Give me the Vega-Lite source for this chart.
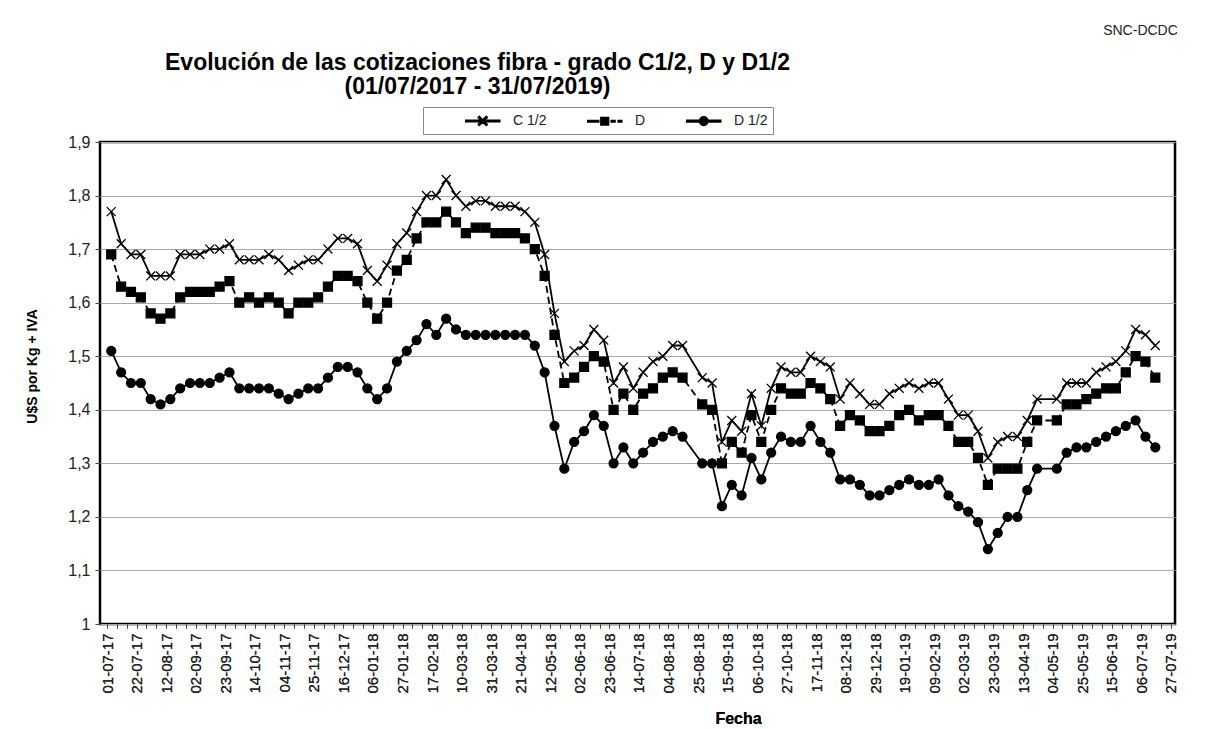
{
  "$schema": "https://vega.github.io/schema/vega-lite/v6.json",
  "width": 1075,
  "height": 482,
  "autosize": {"type": "none"},
  "padding": {"left": 100, "top": 142, "right": 35, "bottom": 105},
  "background": "white",
  "config": {
    "font": "Liberation Sans",
    "view": {"stroke": "black", "strokeWidth": 2.5}
  },
  "title": {
    "text": ["Evolución de las cotizaciones fibra - grado C1/2, D y D1/2", "(01/07/2017 - 31/07/2019)"],
    "fontSize": 23,
    "fontWeight": "bold",
    "font": "Liberation Sans",
    "color": "black",
    "anchor": "middle",
    "dx": -160,
    "dy": 90,
    "offset": 14,
    "lineHeight": 24
  },
  "resolve": {"axis": {"x": "independent"}, "scale": {"shape": "independent"}},
  "data": {
    "values": [
      {"fecha": "2017-07-05", "C12": 1.77, "D": 1.69, "D12": 1.51},
      {"fecha": "2017-07-12", "C12": 1.71, "D": 1.63, "D12": 1.47},
      {"fecha": "2017-07-19", "C12": 1.69, "D": 1.62, "D12": 1.45},
      {"fecha": "2017-07-26", "C12": 1.69, "D": 1.61, "D12": 1.45},
      {"fecha": "2017-08-02", "C12": 1.65, "D": 1.58, "D12": 1.42},
      {"fecha": "2017-08-09", "C12": 1.65, "D": 1.57, "D12": 1.41},
      {"fecha": "2017-08-16", "C12": 1.65, "D": 1.58, "D12": 1.42},
      {"fecha": "2017-08-23", "C12": 1.69, "D": 1.61, "D12": 1.44},
      {"fecha": "2017-08-30", "C12": 1.69, "D": 1.62, "D12": 1.45},
      {"fecha": "2017-09-06", "C12": 1.69, "D": 1.62, "D12": 1.45},
      {"fecha": "2017-09-13", "C12": 1.70, "D": 1.62, "D12": 1.45},
      {"fecha": "2017-09-20", "C12": 1.70, "D": 1.63, "D12": 1.46},
      {"fecha": "2017-09-27", "C12": 1.71, "D": 1.64, "D12": 1.47},
      {"fecha": "2017-10-04", "C12": 1.68, "D": 1.60, "D12": 1.44},
      {"fecha": "2017-10-11", "C12": 1.68, "D": 1.61, "D12": 1.44},
      {"fecha": "2017-10-18", "C12": 1.68, "D": 1.60, "D12": 1.44},
      {"fecha": "2017-10-25", "C12": 1.69, "D": 1.61, "D12": 1.44},
      {"fecha": "2017-11-01", "C12": 1.68, "D": 1.60, "D12": 1.43},
      {"fecha": "2017-11-08", "C12": 1.66, "D": 1.58, "D12": 1.42},
      {"fecha": "2017-11-15", "C12": 1.67, "D": 1.60, "D12": 1.43},
      {"fecha": "2017-11-22", "C12": 1.68, "D": 1.60, "D12": 1.44},
      {"fecha": "2017-11-29", "C12": 1.68, "D": 1.61, "D12": 1.44},
      {"fecha": "2017-12-06", "C12": 1.70, "D": 1.63, "D12": 1.46},
      {"fecha": "2017-12-13", "C12": 1.72, "D": 1.65, "D12": 1.48},
      {"fecha": "2017-12-20", "C12": 1.72, "D": 1.65, "D12": 1.48},
      {"fecha": "2017-12-27", "C12": 1.71, "D": 1.64, "D12": 1.47},
      {"fecha": "2018-01-03", "C12": 1.66, "D": 1.60, "D12": 1.44},
      {"fecha": "2018-01-10", "C12": 1.64, "D": 1.57, "D12": 1.42},
      {"fecha": "2018-01-17", "C12": 1.67, "D": 1.60, "D12": 1.44},
      {"fecha": "2018-01-24", "C12": 1.71, "D": 1.66, "D12": 1.49},
      {"fecha": "2018-01-31", "C12": 1.73, "D": 1.68, "D12": 1.51},
      {"fecha": "2018-02-07", "C12": 1.77, "D": 1.72, "D12": 1.53},
      {"fecha": "2018-02-14", "C12": 1.80, "D": 1.75, "D12": 1.56},
      {"fecha": "2018-02-21", "C12": 1.80, "D": 1.75, "D12": 1.54},
      {"fecha": "2018-02-28", "C12": 1.83, "D": 1.77, "D12": 1.57},
      {"fecha": "2018-03-07", "C12": 1.80, "D": 1.75, "D12": 1.55},
      {"fecha": "2018-03-14", "C12": 1.78, "D": 1.73, "D12": 1.54},
      {"fecha": "2018-03-21", "C12": 1.79, "D": 1.74, "D12": 1.54},
      {"fecha": "2018-03-28", "C12": 1.79, "D": 1.74, "D12": 1.54},
      {"fecha": "2018-04-04", "C12": 1.78, "D": 1.73, "D12": 1.54},
      {"fecha": "2018-04-11", "C12": 1.78, "D": 1.73, "D12": 1.54},
      {"fecha": "2018-04-18", "C12": 1.78, "D": 1.73, "D12": 1.54},
      {"fecha": "2018-04-25", "C12": 1.77, "D": 1.72, "D12": 1.54},
      {"fecha": "2018-05-02", "C12": 1.75, "D": 1.70, "D12": 1.52},
      {"fecha": "2018-05-09", "C12": 1.69, "D": 1.65, "D12": 1.47},
      {"fecha": "2018-05-16", "C12": 1.58, "D": 1.54, "D12": 1.37},
      {"fecha": "2018-05-23", "C12": 1.49, "D": 1.45, "D12": 1.29},
      {"fecha": "2018-05-30", "C12": 1.51, "D": 1.46, "D12": 1.34},
      {"fecha": "2018-06-06", "C12": 1.52, "D": 1.48, "D12": 1.36},
      {"fecha": "2018-06-13", "C12": 1.55, "D": 1.50, "D12": 1.39},
      {"fecha": "2018-06-20", "C12": 1.53, "D": 1.49, "D12": 1.37},
      {"fecha": "2018-06-27", "C12": 1.45, "D": 1.40, "D12": 1.30},
      {"fecha": "2018-07-04", "C12": 1.48, "D": 1.43, "D12": 1.33},
      {"fecha": "2018-07-11", "C12": 1.44, "D": 1.40, "D12": 1.30},
      {"fecha": "2018-07-18", "C12": 1.47, "D": 1.43, "D12": 1.32},
      {"fecha": "2018-07-25", "C12": 1.49, "D": 1.44, "D12": 1.34},
      {"fecha": "2018-08-01", "C12": 1.50, "D": 1.46, "D12": 1.35},
      {"fecha": "2018-08-08", "C12": 1.52, "D": 1.47, "D12": 1.36},
      {"fecha": "2018-08-15", "C12": 1.52, "D": 1.46, "D12": 1.35},
      {"fecha": "2018-08-29", "C12": 1.46, "D": 1.41, "D12": 1.30},
      {"fecha": "2018-09-05", "C12": 1.45, "D": 1.40, "D12": 1.30},
      {"fecha": "2018-09-12", "C12": 1.34, "D": 1.30, "D12": 1.22},
      {"fecha": "2018-09-19", "C12": 1.38, "D": 1.34, "D12": 1.26},
      {"fecha": "2018-09-26", "C12": 1.36, "D": 1.32, "D12": 1.24},
      {"fecha": "2018-10-03", "C12": 1.43, "D": 1.39, "D12": 1.31},
      {"fecha": "2018-10-10", "C12": 1.37, "D": 1.34, "D12": 1.27},
      {"fecha": "2018-10-17", "C12": 1.44, "D": 1.40, "D12": 1.32},
      {"fecha": "2018-10-24", "C12": 1.48, "D": 1.44, "D12": 1.35},
      {"fecha": "2018-10-31", "C12": 1.47, "D": 1.43, "D12": 1.34},
      {"fecha": "2018-11-07", "C12": 1.47, "D": 1.43, "D12": 1.34},
      {"fecha": "2018-11-14", "C12": 1.50, "D": 1.45, "D12": 1.37},
      {"fecha": "2018-11-21", "C12": 1.49, "D": 1.44, "D12": 1.34},
      {"fecha": "2018-11-28", "C12": 1.48, "D": 1.42, "D12": 1.32},
      {"fecha": "2018-12-05", "C12": 1.42, "D": 1.37, "D12": 1.27},
      {"fecha": "2018-12-12", "C12": 1.45, "D": 1.39, "D12": 1.27},
      {"fecha": "2018-12-19", "C12": 1.43, "D": 1.38, "D12": 1.26},
      {"fecha": "2018-12-26", "C12": 1.41, "D": 1.36, "D12": 1.24},
      {"fecha": "2019-01-02", "C12": 1.41, "D": 1.36, "D12": 1.24},
      {"fecha": "2019-01-09", "C12": 1.43, "D": 1.37, "D12": 1.25},
      {"fecha": "2019-01-16", "C12": 1.44, "D": 1.39, "D12": 1.26},
      {"fecha": "2019-01-23", "C12": 1.45, "D": 1.40, "D12": 1.27},
      {"fecha": "2019-01-30", "C12": 1.44, "D": 1.38, "D12": 1.26},
      {"fecha": "2019-02-06", "C12": 1.45, "D": 1.39, "D12": 1.26},
      {"fecha": "2019-02-13", "C12": 1.45, "D": 1.39, "D12": 1.27},
      {"fecha": "2019-02-20", "C12": 1.42, "D": 1.37, "D12": 1.24},
      {"fecha": "2019-02-27", "C12": 1.39, "D": 1.34, "D12": 1.22},
      {"fecha": "2019-03-06", "C12": 1.39, "D": 1.34, "D12": 1.21},
      {"fecha": "2019-03-13", "C12": 1.36, "D": 1.31, "D12": 1.19},
      {"fecha": "2019-03-20", "C12": 1.31, "D": 1.26, "D12": 1.14},
      {"fecha": "2019-03-27", "C12": 1.34, "D": 1.29, "D12": 1.17},
      {"fecha": "2019-04-03", "C12": 1.35, "D": 1.29, "D12": 1.20},
      {"fecha": "2019-04-10", "C12": 1.35, "D": 1.29, "D12": 1.20},
      {"fecha": "2019-04-17", "C12": 1.38, "D": 1.34, "D12": 1.25},
      {"fecha": "2019-04-24", "C12": 1.42, "D": 1.38, "D12": 1.29},
      {"fecha": "2019-05-08", "C12": 1.42, "D": 1.38, "D12": 1.29},
      {"fecha": "2019-05-15", "C12": 1.45, "D": 1.41, "D12": 1.32},
      {"fecha": "2019-05-22", "C12": 1.45, "D": 1.41, "D12": 1.33},
      {"fecha": "2019-05-29", "C12": 1.45, "D": 1.42, "D12": 1.33},
      {"fecha": "2019-06-05", "C12": 1.47, "D": 1.43, "D12": 1.34},
      {"fecha": "2019-06-12", "C12": 1.48, "D": 1.44, "D12": 1.35},
      {"fecha": "2019-06-19", "C12": 1.49, "D": 1.44, "D12": 1.36},
      {"fecha": "2019-06-26", "C12": 1.51, "D": 1.47, "D12": 1.37},
      {"fecha": "2019-07-03", "C12": 1.55, "D": 1.50, "D12": 1.38},
      {"fecha": "2019-07-10", "C12": 1.54, "D": 1.49, "D12": 1.35},
      {"fecha": "2019-07-17", "C12": 1.52, "D": 1.46, "D12": 1.33}
    ]
  },
  "transform": [{"fold": ["C12", "D", "D12"], "as": ["serie", "valor"]}],
  "encoding": {
    "x": {
      "field": "fecha",
      "type": "temporal",
      "scale": {
        "type": "utc",
        "domain": [
          {"year": 2017, "month": 6, "date": 27, "utc": true},
          {"year": 2019, "month": 7, "date": 31, "utc": true}
        ]
      },
      "axis": {
        "orient": "bottom",
        "tickCount": {"interval": "week", "step": 1},
        "labelExpr": "(round((datum.value - 1498953600000) / 604800000) % 3 == 0) ? utcFormat(datum.value - 86400000, '%d-%m-%y') : ''",
        "labelAngle": -90,
        "labelFontSize": 15,
        "labelColor": "#222",
        "labelPadding": 5,
        "labelOverlap": false,
        "labelBound": false,
        "labelFlush": false,
        "tickSize": 4,
        "tickColor": "#444",
        "domain": false,
        "grid": false,
        "title": "Fecha",
        "titleFontSize": 16,
        "titleFontWeight": "bold",
        "titleColor": "black",
        "titleX": 638,
        "titleY": 94,
        "titleAlign": "center",
        "titleBaseline": "middle"
      }
    },
    "y": {
      "field": "valor",
      "type": "quantitative",
      "scale": {"domain": [1, 1.9], "nice": false, "zero": false},
      "axis": {
        "values": [1, 1.1, 1.2, 1.3, 1.4, 1.5, 1.6, 1.7, 1.8, 1.9],
        "labelExpr": "datum.value == 1 ? '1' : replace(format(datum.value, '.1f'), '.', ',')",
        "labelFontSize": 16,
        "labelColor": "#222",
        "labelPadding": 5,
        "tickSize": 5,
        "tickColor": "#444",
        "domain": false,
        "grid": true,
        "gridColor": "#a8a8a8",
        "gridWidth": 1,
        "title": "U$S por Kg + IVA",
        "titleFontSize": 14,
        "titleFontWeight": "bold",
        "titleColor": "black",
        "titleX": -68,
        "titleY": 224,
        "titleAlign": "center",
        "titleBaseline": "middle",
        "titleAngle": 270
      }
    }
  },
  "layer": [
    {
      "mark": {"type": "line", "color": "black", "strokeWidth": 1.8},
      "encoding": {
        "x": {
          "field": "fecha",
          "type": "temporal",
          "axis": {
            "orient": "top",
            "title": "SNC-DCDC",
            "labels": false,
            "ticks": false,
            "domain": false,
            "grid": false,
            "titleFontSize": 14,
            "titleFontWeight": "normal",
            "titleColor": "#222",
            "titleX": 1040,
            "titleY": -112,
            "titleAlign": "center",
            "titleBaseline": "middle"
          }
        },
        "strokeDash": {
          "field": "serie",
          "type": "nominal",
          "scale": {"domain": ["D", "C12", "D12"], "range": [[7, 4], [1, 0], [1, 0]]},
          "legend": null
        }
      }
    },
    {
      "mark": {"type": "point", "filled": true, "fill": "black", "stroke": "black", "strokeWidth": 1.3, "size": 80, "opacity": 1},
      "encoding": {
        "shape": {
          "field": "serie",
          "type": "nominal",
          "scale": {"domain": ["D", "C12", "D12"], "range": ["square", "M-1,-1L1,1M-1,1L1,-1", "circle"]},
          "legend": null
        }
      }
    },
    {
      "transform": [{"filter": "false"}],
      "mark": {"type": "point", "filled": true, "color": "black", "fill": "black", "stroke": "black", "strokeWidth": 1.5, "opacity": 1},
      "encoding": {
        "shape": {
          "field": "serie",
          "type": "nominal",
          "scale": {
            "domain": ["C12", "D", "D12"],
            "range": [
              "M3.77,-0.1H8.17V0.1H3.77ZM5.52,-0.59L6.56,0.45L6.42,0.59L5.38,-0.45ZM5.38,0.45L6.42,-0.59L6.56,-0.45L5.52,0.59Z",
              "M3.77,-0.1H5.2V0.1H3.77ZM5.47,-0.5H6.47V0.5H5.47ZM6.8,-0.1H7.3V0.1H6.8ZM7.7,-0.1H8.17V0.1H7.7Z",
              "M3.77,-0.1H8.17V0.1H3.77ZM6.52,0A0.55,0.55 0 1,1 5.42,0A0.55,0.55 0 1,1 6.52,0Z"
            ]
          },
          "legend": {
            "orient": "none",
            "legendX": 323,
            "legendY": -35,
            "direction": "horizontal",
            "title": null,
            "fillColor": "white",
            "strokeColor": "#888",
            "padding": 5,
            "symbolSize": 240,
            "symbolFillColor": "black",
            "labelFontSize": 14,
            "labelColor": "#222",
            "labelOffset": 68,
            "columnPadding": 3,
            "labelExpr": "datum.label == 'C12' ? 'C 1/2' : datum.label == 'D12' ? 'D 1/2' : 'D'"
          }
        }
      }
    }
  ]
}
